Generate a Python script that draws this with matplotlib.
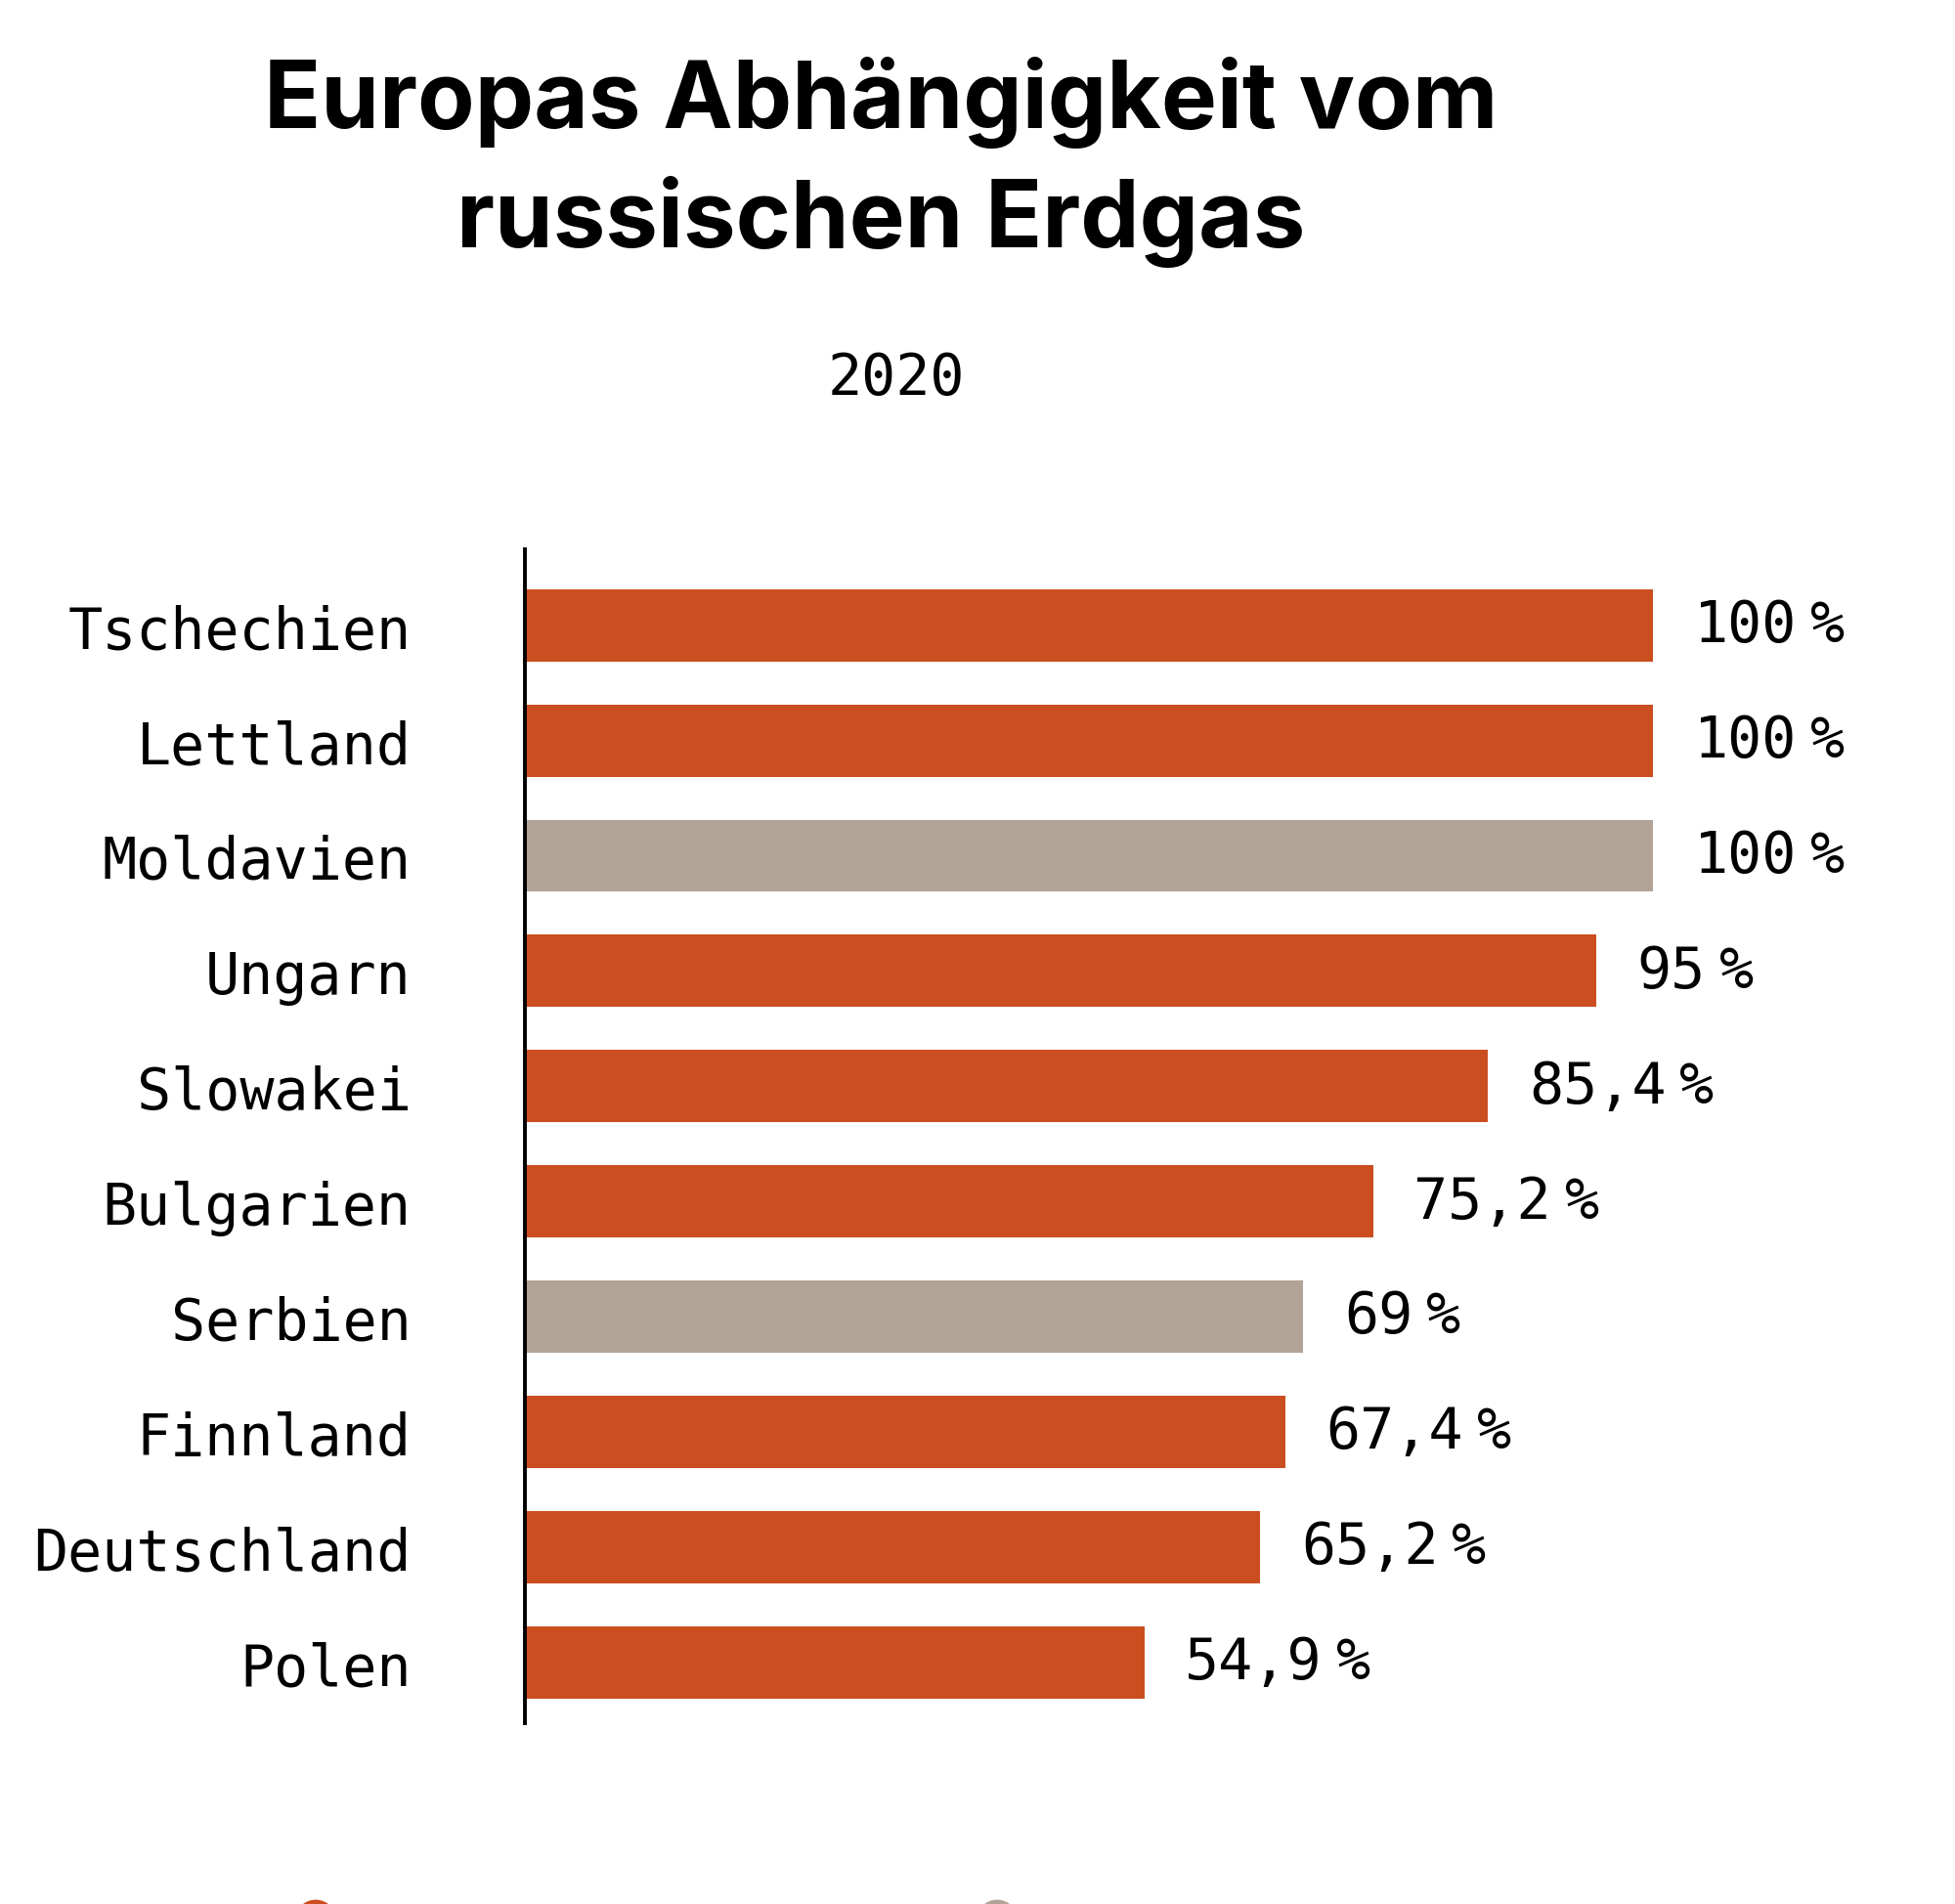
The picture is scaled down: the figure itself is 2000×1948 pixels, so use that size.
import matplotlib.pyplot as plt
from matplotlib.patches import Circle

# Data
countries = ['Tschechien', 'Lettland', 'Moldavien', 'Ungarn', 'Slowakei',
             'Bulgarien', 'Serbien', 'Finnland', 'Deutschland', 'Polen']
shares = [100, 100, 100, 95, 85.4, 75.2, 69, 67.4, 65.2, 54.9]
is_eu = [True, True, False, True, True, True, False, True, True, True]

orange = '#CB4E21'
grey = '#B2A397'
mono = 'DejaVu Sans Mono'
fs = 21

fig = plt.figure(figsize=(10, 9.745), dpi=200)
ax = fig.add_axes([0.2686, 0.0949, 0.7314, 0.616])

colors = [orange if eu else grey for eu in is_eu]
ypos = list(range(len(countries)))
ax.barh(ypos, shares, height=0.627, color=colors)

# value labels, German decimal comma; the % sign sits a bit apart
char_w = 0.602 * fs  # advance of one mono glyph in points
for y, v in zip(ypos, shares):
    num = f'{v:g}'.replace('.', ',')
    ax.annotate(num, (v, y), xytext=(15, 0), textcoords='offset points',
                ha='left', va='center', fontsize=fs, family=mono)
    ax.annotate('%', (v, y), xytext=(15 + len(num) * char_w + 5, 0),
                textcoords='offset points', ha='left', va='center',
                fontsize=fs, family=mono)

ax.set_xlim(0, 126.8)
ax.set_ylim(9.53, -0.656)
ax.set_yticks(ypos)
ax.set_yticklabels(countries, family=mono, fontsize=fs)
ax.tick_params(axis='y', length=0, pad=42)
ax.set_xticks([])
for s in ['top', 'right', 'bottom']:
    ax.spines[s].set_visible(False)
ax.spines['left'].set_linewidth(1.4)

# title and subtitle
fig.text(0.4505, 0.9328, 'Europas Abhängigkeit vom', ha='center', va='baseline',
         fontsize=34.5, fontweight='bold', family='Inter')
fig.text(0.4505, 0.8702, 'russischen Erdgas', ha='center', va='baseline',
         fontsize=34.5, fontweight='bold', family='Inter')
fig.text(0.4585, 0.801, '2020', ha='center', va='center', fontsize=fs, family=mono)

# legend markers (cut off at the bottom edge in the original)
for xp, c in [(323, orange), (1020, grey)]:
    fig.add_artist(Circle((xp, -17), 20, color=c, transform=None, clip_on=False))

fig.savefig('out.png', dpi=200)
